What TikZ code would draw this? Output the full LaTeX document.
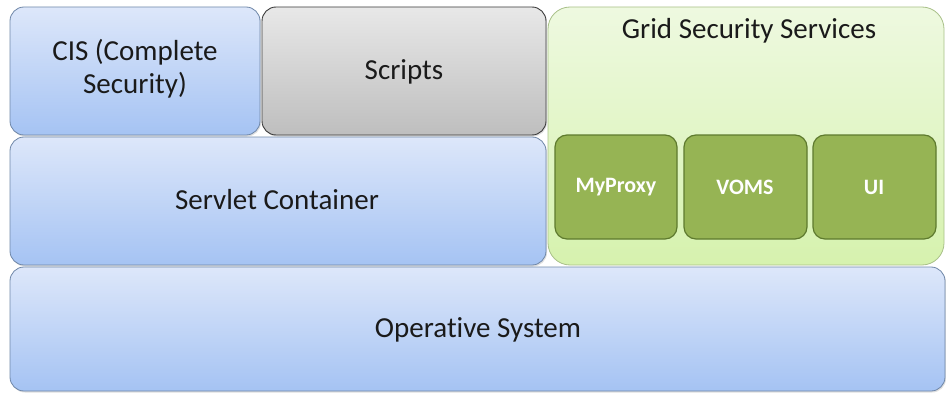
\documentclass[tikz,border=0pt]{standalone}
\usepackage{fontspec}
\setmainfont[RawFeature={-liga;-dlig;-clig}]{Carlito}
\usetikzlibrary{shadows}
\definecolor{bluetop}{HTML}{DDE7FA}
\definecolor{bluebot}{HTML}{A5C3F3}
\definecolor{blueedge}{HTML}{6F87A8}
\definecolor{graytop}{HTML}{E8E8E8}
\definecolor{graybot}{HTML}{BEBEBE}
\definecolor{grayedge}{HTML}{3A3A3A}
\definecolor{greentop}{HTML}{EEF9E0}
\definecolor{greenbot}{HTML}{D6F2AE}
\definecolor{greenedge}{HTML}{A8C088}
\definecolor{leaf}{HTML}{96B454}
\definecolor{leafedge}{HTML}{5E7A2E}
\definecolor{txt}{HTML}{1A1A1A}
\begin{document}
\begin{tikzpicture}[x=1pt,y=-1pt,
  layer/.style={rounded corners=14pt, draw=blueedge, line width=0.8pt, top color=bluetop, bottom color=bluebot, drop shadow={shadow xshift=1pt,shadow yshift=-1.5pt,opacity=0.25}},
  grey/.style={rounded corners=14pt, draw=grayedge, line width=0.9pt, top color=graytop, bottom color=graybot, drop shadow={shadow xshift=1pt,shadow yshift=-1.5pt,opacity=0.25}},
  grid/.style={rounded corners=22pt, draw=greenedge, line width=0.8pt, top color=greentop, bottom color=greenbot},
  leafbox/.style={rounded corners=12pt, draw=leafedge, line width=1.2pt, fill=leaf},
  lbl/.style={font=\fontsize{29}{33}\selectfont, text=txt, align=center},
  leaflbl/.style={font=\fontsize{22}{26}\selectfont\bfseries, text=white}
]
\useasboundingbox (0,0) rectangle (946,396);
\path[layer] (10,7) rectangle (260,135);
\node[lbl] (cis) at (135,69) {CIS (Complete\\Security)};
\path[grey] (262,7) rectangle (546,135);
\node[lbl] (scripts) at (404,72) {Scripts};
\path[layer] (10,137) rectangle (546,265);
\node[lbl] (servlet) at (277,200) {Servlet Container};
\path[grid] (548,7) rectangle (944,265);
\node[lbl] (grid) at (749,31) {Grid Security Services};
\path[leafbox] (555,135) rectangle (677,239);
\node[leaflbl] (myproxy) at (616,187) {MyProxy};
\path[leafbox] (684,135) rectangle (807,239);
\node[leaflbl] (voms) at (745,187) {VOMS};
\path[leafbox] (813,135) rectangle (936,239);
\node[leaflbl] (ui) at (874,187) {UI};
\path[layer] (10,267) rectangle (945,391);
\node[lbl] (os) at (478,330) {Operative System};
\end{tikzpicture}
\end{document}
